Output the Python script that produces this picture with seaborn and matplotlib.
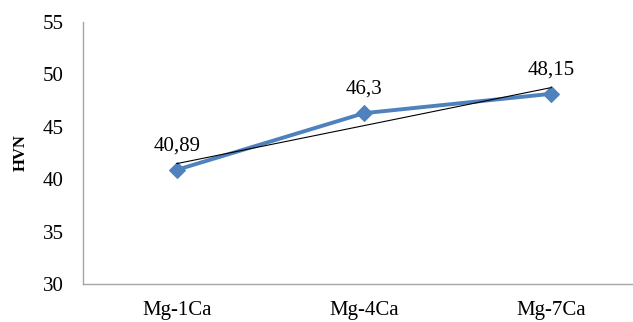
import numpy as np
import pandas as pd
import matplotlib
matplotlib.use("Agg")
import matplotlib.pyplot as plt
import seaborn as sns

# Hardness of Mg-Ca alloys
alloys = ["Mg-1Ca", "Mg-4Ca", "Mg-7Ca"]
hvn = [40.89, 46.3, 48.15]
value_labels = ["40,89", "46,3", "48,15"]
y_ticks = [30, 35, 40, 45, 50, 55]

sns.set_theme(style="white")
plt.rcParams["font.family"] = ["Liberation Serif", "DejaVu Serif"]

df = pd.DataFrame({"pos": np.arange(len(alloys)), "alloy": alloys, "hvn": hvn})

fig = plt.figure(figsize=(6.33, 3.22), dpi=100)
ax = fig.add_axes([83 / 633, 38 / 322, 562 / 633, 262 / 322])

sns.lineplot(data=df, x="pos", y="hvn", ax=ax, color="#4F81BD", linewidth=2.8,
             marker="D", markersize=8, markeredgecolor="#4F81BD", zorder=3)

# linear trendline over the series
sns.regplot(data=df, x="pos", y="hvn", ax=ax, scatter=False, ci=None,
            truncate=True, line_kws={"color": "black", "linewidth": 0.8, "zorder": 4})

for x, y, t in zip(df["pos"], df["hvn"], value_labels):
    ax.annotate(t, (x, y), xytext=(0, 10.5), textcoords="offset points",
                ha="center", va="bottom", fontsize=15, color="black")

ax.set_xlim(-0.5, 2.5)
ax.set_ylim(30, 55)
ax.set_yticks(y_ticks)
ax.set_xticks(df["pos"])
ax.set_xticklabels(alloys)
ax.tick_params(axis="both", length=0, labelsize=15, colors="black")
ax.tick_params(axis="x", pad=12)
ax.tick_params(axis="y", pad=14)
ax.set_xlabel("")
ax.set_ylabel("HVN", fontsize=12, fontweight="bold", color="black", labelpad=10)

for s in ["top", "right"]:
    ax.spines[s].set_visible(False)
for s in ["left", "bottom"]:
    ax.spines[s].set_color("#A6A6A6")
    ax.spines[s].set_linewidth(1.0)

fig.savefig("out.png", dpi=100)
